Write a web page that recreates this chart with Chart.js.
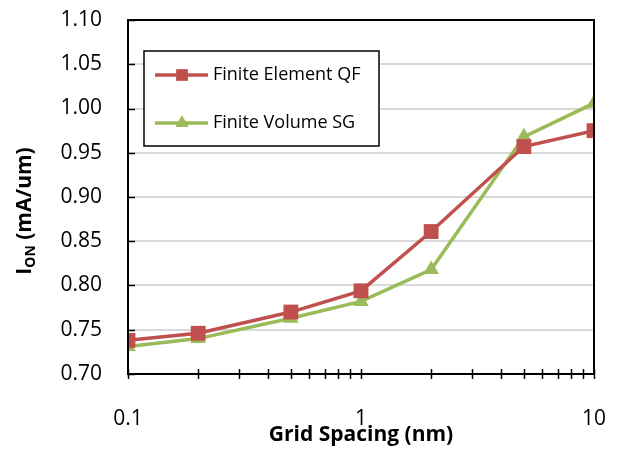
<!DOCTYPE html>
<html>
<head>
<meta charset="utf-8">
<script src="https://cdn.jsdelivr.net/npm/chart.js@4"></script>
<style>
  html, body { margin: 0; padding: 0; background: #fff; }
  #wrap { width: 618px; height: 457px; }
</style>
</head>
<body>
<div id="wrap"><canvas id="chart" width="618" height="457"></canvas></div>
<script>
// Data
const gridSpacing = [0.1, 0.2, 0.5, 1, 2, 5, 10];
const feQF = [0.738, 0.746, 0.770, 0.794, 0.861, 0.957, 0.975];
const fvSG = [0.731, 0.740, 0.763, 0.782, 0.818, 0.968, 1.006];
const yTicks = [0.70, 0.75, 0.80, 0.85, 0.90, 0.95, 1.00, 1.05, 1.10];
const xLabels = [0.1, 1, 10];
const xMinorTicks = [0.1, 0.2, 0.3, 0.4, 0.5, 0.6, 0.7, 0.8, 0.9, 1, 2, 3, 4, 5, 6, 7, 8, 9, 10];

const FONT = "'Open Sans', 'Noto Sans', sans-serif";
const RED = '#c0504d';
const GREEN = '#9bbb59';

// frame, tick marks and axis titles like the Excel original
const decorations = {
    id: 'decorations',
    afterDatasetsDraw(chart) {
        const { ctx, chartArea: a, scales: { x, y } } = chart;
        ctx.save();
        ctx.strokeStyle = '#000';
        ctx.lineWidth = 2;
        ctx.strokeRect(a.left, a.top, a.right - a.left, a.bottom - a.top);

        ctx.lineWidth = 1.5;
        ctx.beginPath();
        xMinorTicks.forEach(v => {
            const px = Math.round(x.getPixelForValue(v)) + 0.5;
            ctx.moveTo(px, a.bottom - 5);
            ctx.lineTo(px, a.bottom + 5);
        });
        yTicks.forEach(v => {
            const py = Math.round(y.getPixelForValue(v)) + 0.5;
            ctx.moveTo(a.left, py);
            ctx.lineTo(a.left + 7, py);
        });
        ctx.stroke();

        // x title
        ctx.fillStyle = '#000';
        ctx.font = 'bold 21px ' + FONT;
        ctx.textAlign = 'center';
        ctx.textBaseline = 'middle';
        ctx.fillText('Grid Spacing (nm)', (a.left + a.right) / 2, 435);

        // y title with subscript
        ctx.translate(24, 211);
        ctx.rotate(-Math.PI / 2);
        const main = 'I';
        const sub = 'ON';
        const rest = ' (mA/um)';
        ctx.font = 'bold 21px ' + FONT;
        const wMain = ctx.measureText(main).width;
        const wRest = ctx.measureText(rest).width;
        ctx.font = 'bold 14px ' + FONT;
        const wSub = ctx.measureText(sub).width;
        let sx = -(wMain + wSub + wRest) / 2;
        ctx.textAlign = 'left';
        ctx.textBaseline = 'alphabetic';
        ctx.font = 'bold 21px ' + FONT;
        ctx.fillText(main, sx, 7);
        sx += wMain;
        ctx.font = 'bold 14px ' + FONT;
        ctx.fillText(sub, sx, 11);
        sx += wSub;
        ctx.font = 'bold 21px ' + FONT;
        ctx.fillText(rest, sx, 7);
        ctx.restore();
    }
};

new Chart(document.getElementById('chart'), {
    type: 'line',
    data: {
        datasets: [{
            label: 'Finite Element QF',
            data: gridSpacing.map((v, i) => ({ x: v, y: feQF[i] })),
            borderColor: RED,
            backgroundColor: RED,
            borderWidth: 3.5,
            pointStyle: 'rect',
            pointRadius: 10.5,
            pointBorderWidth: 0,
            tension: 0
        }, {
            label: 'Finite Volume SG',
            data: gridSpacing.map((v, i) => ({ x: v, y: fvSG[i] })),
            borderColor: GREEN,
            backgroundColor: GREEN,
            borderWidth: 3.5,
            pointStyle: 'triangle',
            pointRadius: 9,
            pointBorderWidth: 0,
            tension: 0
        }]
    },
    options: {
        responsive: false,
        animation: false,
        layout: { padding: { top: 20, right: 24, left: 0, bottom: 0 } },
        plugins: {
            legend: { display: false },
            tooltip: { enabled: false }
        },
        scales: {
            x: {
                type: 'logarithmic',
                min: 0.1,
                max: 10,
                afterFit: s => {
                    s.height = 83;
                    s.paddingLeft = 0;
                    s.paddingRight = 0;
                },
                afterBuildTicks: s => { s.ticks = xLabels.map(v => ({ value: v })); },
                grid: { display: false },
                border: { display: false },
                ticks: {
                    color: '#000',
                    font: { family: FONT, size: 21 },
                    padding: 24,
                    maxRotation: 0,
                    autoSkip: false,
                    callback: v => String(v)
                }
            },
            y: {
                min: 0.70,
                max: 1.10,
                afterFit: s => {
                    s.width = 128;
                    s.paddingTop = 0;
                    s.paddingBottom = 0;
                },
                afterBuildTicks: s => { s.ticks = yTicks.map(v => ({ value: v })); },
                grid: { color: '#d9d9d9', lineWidth: 2, drawTicks: false },
                border: { display: false },
                ticks: {
                    color: '#000',
                    font: { family: FONT, size: 21 },
                    padding: 26,
                    callback: v => v.toFixed(2)
                }
            }
        }
    },
    plugins: [decorations, {
        // legend box drawn inside the plot, top-left
        id: 'insideLegend',
        afterDraw(chart) {
            const { ctx } = chart;
            const bx = 144, by = 51, bw = 235, bh = 95;
            ctx.save();
            ctx.fillStyle = '#fff';
            ctx.fillRect(bx, by, bw, bh);
            ctx.strokeStyle = '#000';
            ctx.lineWidth = 1.5;
            ctx.strokeRect(bx, by, bw, bh);
            const rows = [
                { y: by + 24, color: RED, style: 'rect', r: 8 },
                { y: by + 72, color: GREEN, style: 'triangle', r: 7.5 }
            ];
            chart.data.datasets.forEach((ds, i) => {
                const row = rows[i];
                ctx.strokeStyle = row.color;
                ctx.lineWidth = 3.5;
                ctx.beginPath();
                ctx.moveTo(bx + 11, row.y);
                ctx.lineTo(bx + 64, row.y);
                ctx.stroke();
                ctx.fillStyle = row.color;
                Chart.helpers.drawPoint(ctx, {
                    pointStyle: row.style, radius: row.r, borderWidth: 0
                }, bx + 38, row.y);
                ctx.fill();
                ctx.fillStyle = '#000';
                ctx.font = '18px ' + FONT;
                ctx.textAlign = 'left';
                ctx.textBaseline = 'middle';
                ctx.fillText(ds.label, bx + 69, row.y);
            });
            ctx.restore();
        }
    }]
});
</script>
</body>
</html>
